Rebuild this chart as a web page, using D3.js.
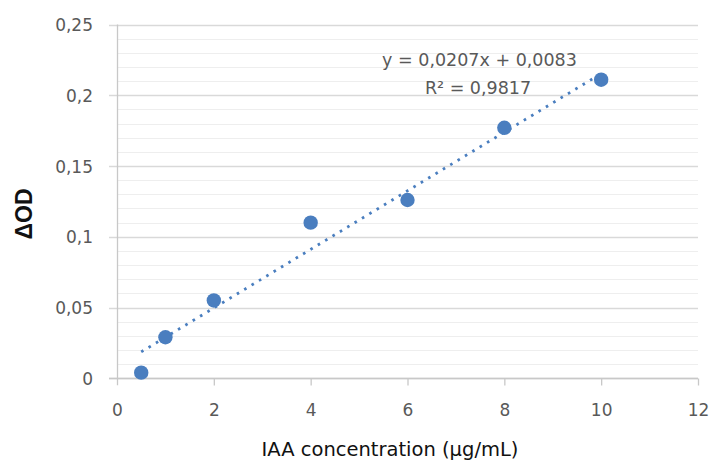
<!DOCTYPE html>
<html>
<head>
<meta charset="utf-8">
<script src="https://cdn.jsdelivr.net/npm/d3@7"></script>
<style>
  html, body { margin: 0; padding: 0; background: #fff; }
  svg { display: block; }
</style>
</head>
<body>
<svg id="chart" width="710" height="463"></svg>
<script>
// ---- data ----
const concentrations = [0.5, 1, 2, 4, 6, 8, 10];
const deltaOD = [0.004, 0.029, 0.055, 0.110, 0.126, 0.177, 0.211];
const xTicks = [0, 2, 4, 6, 8, 10, 12];
const yTicks = [0, 0.05, 0.1, 0.15, 0.2, 0.25];
const yMinorTicks = d3.range(0, 0.2501, 0.01);
const trendSlope = 0.0207;
const trendIntercept = 0.0083;
const trendRange = [0.5, 10];
const equationText = "y = 0,0207x + 0,0083";
const r2Text = "R² = 0,9817";
const xTitle = "IAA concentration (µg/mL)";
const yTitle = "ΔOD";

// ---- layout ----
const svg = d3.select("#chart");
const x = d3.scaleLinear().domain([0, 12]).range([117, 698]);
const y = d3.scaleLinear().domain([0, 0.25]).range([378.3, 24.5]);
const fmt = d => String(+d.toFixed(2)).replace(".", ",");
const blue = "#4a7ebf";
const tickFont = "'DejaVu Sans', sans-serif";
const boldFont = "'Liberation Sans', Arial, sans-serif";

// minor gridlines
svg.append("g").selectAll("line").data(yMinorTicks).join("line")
  .attr("x1", x(0)).attr("x2", x(12))
  .attr("y1", d => Math.round(y(d)) + 0.5).attr("y2", d => Math.round(y(d)) + 0.5)
  .attr("stroke", "#eeeeee").attr("stroke-width", 1.2);

// major gridlines (extend left as tick marks)
svg.append("g").selectAll("line").data(yTicks).join("line")
  .attr("x1", x(0) - 8).attr("x2", x(12))
  .attr("y1", d => Math.round(y(d)) + 0.5).attr("y2", d => Math.round(y(d)) + 0.5)
  .attr("stroke", "#d9d9d9").attr("stroke-width", 1.3);

// y axis line
svg.append("line")
  .attr("x1", x(0) + 0.5).attr("x2", x(0) + 0.5)
  .attr("y1", y(0.25)).attr("y2", y(0) + 7)
  .attr("stroke", "#c8c8c8").attr("stroke-width", 1.3);

// x axis line & ticks
const xAxis = d3.axisBottom(x).tickValues(xTicks).tickSize(7).tickFormat(fmt);
const gx = svg.append("g").attr("transform", `translate(0,${Math.round(y(0)) + 0.5})`).call(xAxis);
gx.select(".domain").attr("stroke", "#c8c8c8").attr("stroke-width", 1.3)
  .attr("d", `M${x(0) - 8},0H${x(12)}`);
gx.selectAll(".tick line").attr("stroke", "#c8c8c8").attr("stroke-width", 1.3);
gx.selectAll(".tick text")
  .attr("fill", "#595959").attr("font-family", tickFont).attr("font-size", 17)
  .attr("y", 37.5).attr("dy", null);
gx.selectAll(".tick").filter(d => d === 0).select("line").remove();

// y tick labels via axis
const yAxis = d3.axisLeft(y).tickValues(yTicks).tickSize(0).tickPadding(0).tickFormat(fmt);
const gy = svg.append("g").attr("transform", `translate(${93},0)`).call(yAxis);
gy.select(".domain").remove();
gy.selectAll(".tick text")
  .attr("fill", "#595959").attr("font-family", tickFont).attr("font-size", 17)
  .attr("dy", "0.36em");

// trendline
const trendData = trendRange.map(v => [v, trendSlope * v + trendIntercept]);
svg.append("path")
  .datum(trendData)
  .attr("d", d3.line().x(d => x(d[0])).y(d => y(d[1])))
  .attr("fill", "none").attr("stroke", blue).attr("stroke-width", 2.8)
  .attr("stroke-dasharray", "2.6,6");

// points
svg.append("g").selectAll("circle").data(concentrations).join("circle")
  .attr("cx", (d) => x(d)).attr("cy", (d, i) => y(deltaOD[i]))
  .attr("r", 7.2).attr("fill", blue);

// trendline label
svg.append("text").attr("x", 479.5).attr("y", 66).attr("text-anchor", "middle")
  .attr("font-family", tickFont).attr("font-size", 17.5).attr("fill", "#595959")
  .text(equationText);
svg.append("text").attr("x", 478).attr("y", 94).attr("text-anchor", "middle")
  .attr("font-family", tickFont).attr("font-size", 17.5).attr("fill", "#595959")
  .text(r2Text);

// axis titles
svg.append("text").attr("x", 390).attr("y", 456).attr("text-anchor", "middle")
  .attr("font-family", tickFont).attr("font-size", 19.5).attr("fill", "#111")
  .text(xTitle);
svg.append("text")
  .attr("transform", "translate(32,214) rotate(-90)")
  .attr("text-anchor", "middle")
  .attr("font-family", boldFont).attr("font-size", 23).attr("font-weight", "bold").attr("fill", "#111")
  .text(yTitle);
</script>
</body>
</html>
